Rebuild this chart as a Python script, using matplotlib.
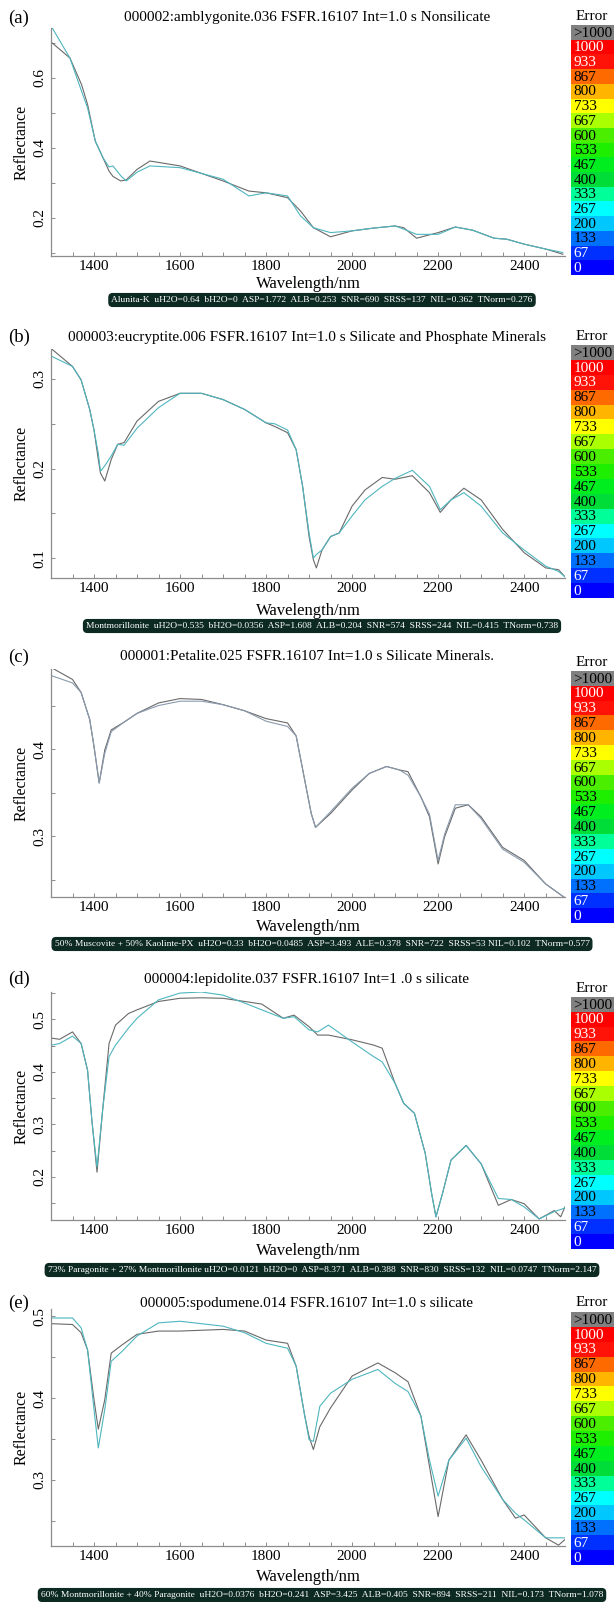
import numpy as np
import matplotlib
matplotlib.use("Agg")
import matplotlib.pyplot as plt

plt.rcParams['font.family'] = ['Liberation Serif', 'DejaVu Serif']

# === 1. data ===
labels = ["(a)", "(b)", "(c)", "(d)", "(e)"]
titles = [
    "000002:amblygonite.036 FSFR.16107 Int=1.0 s Nonsilicate",
    "000003:eucryptite.006 FSFR.16107 Int=1.0 s Silicate and Phosphate Minerals",
    "000001:Petalite.025 FSFR.16107 Int=1.0 s Silicate Minerals.",
    "000004:lepidolite.037 FSFR.16107 Int=1 .0 s silicate",
    "000005:spodumene.014 FSFR.16107 Int=1.0 s silicate",
]
infos = [
    "Alunita-K  uH2O=0.64  bH2O=0  ASP=1.772  ALB=0.253  SNR=690  SRSS=137  NIL=0.362  TNorm=0.276",
    "Montmorillonite  uH2O=0.535  bH2O=0.0356  ASP=1.608  ALB=0.204  SNR=574  SRSS=244  NIL=0.415  TNorm=0.738",
    "50% Muscovite + 50% Kaolinte-PX  uH2O=0.33  bH2O=0.0485  ASP=3.493  ALE=0.378  SNR=722  SRSS=53 NIL=0.102  TNorm=0.577",
    "73% Paragonite + 27% Montmorillonite uH2O=0.0121  bH2O=0  ASP=8.371  ALB=0.388  SNR=830  SRSS=132  NIL=0.0747  TNorm=2.147",
    "60% Montmorillonite + 40% Paragonite  uH2O=0.0376  bH2O=0.241  ASP=3.425  ALB=0.405  SNR=894  SRSS=211  NIL=0.173  TNorm=1.078",
]

wl_a = [1303, 1344, 1371, 1385, 1403, 1421, 1435, 1444, 1462, 1475, 1500, 1530, 1600, 1700, 1760, 1800, 1850,
        1880, 1910, 1950, 2000, 2050, 2100, 2120, 2150, 2200, 2240, 2280, 2330, 2360, 2400, 2450, 2490]
gray_a = [0.700, 0.657, 0.581, 0.524, 0.419, 0.371, 0.333, 0.318, 0.305, 0.308, 0.338, 0.362, 0.348, 0.305, 0.276,
          0.271, 0.257, 0.219, 0.171, 0.145, 0.162, 0.170, 0.176, 0.171, 0.141, 0.157, 0.173, 0.164, 0.141, 0.138,
          0.124, 0.110, 0.095]
cyan_a = [0.743, 0.657, 0.562, 0.514, 0.419, 0.371, 0.345, 0.348, 0.320, 0.305, 0.330, 0.348, 0.343, 0.310, 0.262,
          0.271, 0.262, 0.205, 0.171, 0.157, 0.162, 0.170, 0.176, 0.167, 0.152, 0.152, 0.173, 0.164, 0.141, 0.138,
          0.124, 0.110, 0.100]

wl_b = [1303, 1350, 1370, 1390, 1400, 1410, 1415, 1425, 1440, 1455, 1470, 1500, 1550, 1600, 1650, 1700, 1750, 1800,
        1820, 1850, 1870, 1885, 1900, 1910, 1917, 1930, 1950, 1970, 2000, 2030, 2070, 2100, 2140, 2180, 2205, 2230,
        2260, 2300, 2350, 2400, 2450, 2480, 2495]
gray_b = [0.333, 0.314, 0.299, 0.266, 0.243, 0.210, 0.195, 0.186, 0.210, 0.227, 0.229, 0.253, 0.275, 0.284, 0.284,
          0.277, 0.266, 0.251, 0.247, 0.240, 0.221, 0.180, 0.124, 0.098, 0.089, 0.109, 0.124, 0.128, 0.158, 0.176,
          0.190, 0.188, 0.192, 0.173, 0.151, 0.165, 0.178, 0.165, 0.132, 0.106, 0.089, 0.087, 0.079]
cyan_b = [0.325, 0.314, 0.299, 0.266, 0.243, 0.217, 0.197, 0.203, 0.214, 0.227, 0.226, 0.245, 0.268, 0.284, 0.284,
          0.277, 0.266, 0.251, 0.250, 0.243, 0.221, 0.180, 0.128, 0.100, 0.104, 0.109, 0.124, 0.128, 0.147, 0.165,
          0.180, 0.189, 0.198, 0.180, 0.154, 0.165, 0.173, 0.158, 0.128, 0.109, 0.091, 0.085, 0.079]

wl_c = [1303, 1350, 1370, 1390, 1400, 1412, 1425, 1440, 1470, 1500, 1550, 1600, 1650, 1700, 1750, 1800, 1850, 1870,
        1890, 1905, 1915, 1950, 2000, 2040, 2080, 2110, 2130, 2160, 2180, 2200, 2215, 2240, 2270, 2300, 2350, 2400,
        2450, 2495]
gray_c = [0.493, 0.480, 0.465, 0.434, 0.403, 0.361, 0.399, 0.422, 0.431, 0.441, 0.453, 0.458, 0.457, 0.451, 0.444,
          0.435, 0.430, 0.415, 0.364, 0.326, 0.310, 0.326, 0.353, 0.372, 0.380, 0.376, 0.374, 0.345, 0.322, 0.268,
          0.299, 0.332, 0.336, 0.322, 0.287, 0.272, 0.245, 0.229]
cyan_c = [0.484, 0.476, 0.465, 0.434, 0.403, 0.361, 0.395, 0.420, 0.431, 0.441, 0.450, 0.455, 0.455, 0.451, 0.444,
          0.432, 0.426, 0.415, 0.364, 0.326, 0.310, 0.328, 0.355, 0.372, 0.380, 0.376, 0.370, 0.345, 0.325, 0.272,
          0.302, 0.336, 0.336, 0.320, 0.285, 0.270, 0.245, 0.229]

wl_d = [1303, 1320, 1350, 1370, 1385, 1395, 1407, 1420, 1435, 1450, 1480, 1500, 1550, 1600, 1650, 1700, 1750, 1790,
        1840, 1865, 1900, 1920, 1945, 2000, 2050, 2070, 2100, 2120, 2145, 2170, 2185, 2195, 2210, 2230, 2265, 2300,
        2340, 2370, 2400, 2435, 2470, 2485, 2495]
gray_d = [0.464, 0.462, 0.476, 0.454, 0.403, 0.308, 0.209, 0.327, 0.454, 0.489, 0.511, 0.518, 0.534, 0.540, 0.541,
          0.540, 0.534, 0.529, 0.502, 0.508, 0.486, 0.470, 0.470, 0.461, 0.451, 0.445, 0.378, 0.340, 0.321, 0.245,
          0.168, 0.124, 0.168, 0.232, 0.260, 0.225, 0.146, 0.157, 0.149, 0.120, 0.136, 0.124, 0.143]
cyan_d = [0.451, 0.454, 0.468, 0.454, 0.403, 0.308, 0.219, 0.327, 0.429, 0.451, 0.483, 0.502, 0.537, 0.550, 0.552,
          0.546, 0.531, 0.518, 0.502, 0.505, 0.480, 0.476, 0.489, 0.457, 0.429, 0.419, 0.378, 0.340, 0.321, 0.245,
          0.168, 0.124, 0.168, 0.232, 0.260, 0.225, 0.159, 0.157, 0.143, 0.120, 0.134, 0.138, 0.141]

wl_e = [1303, 1350, 1370, 1385, 1400, 1410, 1425, 1440, 1465, 1500, 1550, 1600, 1700, 1750, 1800, 1850, 1870, 1890,
        1900, 1910, 1925, 1950, 2000, 2060, 2100, 2130, 2160, 2180, 2200, 2225, 2265, 2300, 2350, 2380, 2400, 2450,
        2480, 2495]
gray_e = [0.491, 0.490, 0.480, 0.459, 0.398, 0.362, 0.398, 0.455, 0.465, 0.478, 0.482, 0.482, 0.484, 0.482, 0.471,
          0.467, 0.439, 0.378, 0.353, 0.337, 0.365, 0.388, 0.427, 0.443, 0.431, 0.420, 0.378, 0.316, 0.255, 0.324,
          0.355, 0.324, 0.276, 0.253, 0.257, 0.229, 0.220, 0.227]
cyan_e = [0.498, 0.498, 0.486, 0.459, 0.386, 0.339, 0.386, 0.445, 0.457, 0.476, 0.492, 0.494, 0.488, 0.480, 0.467,
          0.461, 0.439, 0.378, 0.349, 0.347, 0.390, 0.406, 0.423, 0.435, 0.418, 0.408, 0.378, 0.324, 0.280, 0.324,
          0.351, 0.316, 0.276, 0.259, 0.251, 0.229, 0.229, 0.229]

wls = [wl_a, wl_b, wl_c, wl_d, wl_e]
grays = [gray_a, gray_b, gray_c, gray_d, gray_e]
cyans = [cyan_a, cyan_b, cyan_c, cyan_d, cyan_e]
ylims = [(0.09, 0.743), (0.0777, 0.3335), (0.23, 0.492), (0.118, 0.552), (0.219, 0.509)]
ymajor = [0.2, 0.1, 0.1, 0.1, 0.1]
yminor = [0.1, 0.05, 0.05, 0.05, 0.05]

err_labels = [">1000", "1000", "933", "867", "800", "733", "667", "600", "533", "467", "400",
              "333", "267", "200", "133", "67", "0"]
err_colors = ["#808080", "#ff0000", "#ff1208", "#ff6a00", "#ffb400", "#ffff00", "#aaff00", "#4cee00",
              "#1eee00", "#00ee20", "#00dd38", "#00ff99", "#00ffff", "#00c8ff", "#0070ff", "#0030ff", "#0000ff"]
err_text = ["black", "white", "white", "black", "black", "black", "black", "black", "black", "black",
            "black", "black", "black", "black", "black", "white", "white"]

# === 2. layout in pixels (top-origin) ===
W, H = 614, 1602
ax_top = [28, 349, 669, 992, 1309]
ax_bot = [256, 578, 897, 1220, 1546]
title_y = [18, 337, 657, 979, 1303]
error_y = [17, 336, 663, 989, 1303]
xlab_y = [284, 611, 927, 1251, 1577]
info_y = [300, 626, 944, 1270, 1595]
cb_top = [25, 345, 671, 997, 1312]
cb_bot = [275, 598, 923, 1249, 1565]
line2_colors = ["#4fb6bf", "#4fb6bf", "#8a9aae", "#4fb6bf", "#4fb6bf"]

fig = plt.figure(figsize=(W / 100, H / 100), dpi=100)


def fx(x):
    return x / W


def fy(y):
    return 1 - y / H


for i in range(5):
    ax = fig.add_axes([fx(51), fy(ax_bot[i]), fx(565 - 51), (ax_bot[i] - ax_top[i]) / H])
    ax.plot(wls[i], grays[i], color="#6a6a6a", lw=0.8)
    ax.plot(wls[i], cyans[i], color=line2_colors[i], lw=0.8)
    ax.set_xlim(1300, 2495)
    ax.set_ylim(*ylims[i])
    for s in ["top", "right"]:
        ax.spines[s].set_visible(False)
    for s in ["left", "bottom"]:
        ax.spines[s].set_color("#8c8c8c")
        ax.spines[s].set_linewidth(0.9)
    ax.set_xticks(np.arange(1400, 2401, 200))
    ax.set_xticks(np.arange(1350, 2500, 50), minor=True)
    ax.yaxis.set_major_locator(plt.MultipleLocator(ymajor[i]))
    ax.yaxis.set_minor_locator(plt.MultipleLocator(yminor[i]))
    ax.tick_params(which="both", direction="in", length=3, width=0.7, color="#8c8c8c",
                   labelsize=11, pad=3)
    ax.tick_params(axis="y", labelrotation=90)
    for lab in ax.get_yticklabels():
        lab.set_va("center")
    ax.set_ylabel("Reflectance", fontsize=11.5, labelpad=3)

    fig.text(fx(8), fy(title_y[i]), labels[i], fontsize=13.5, va="center", ha="left")
    fig.text(fx(307), fy(title_y[i]), titles[i], fontsize=11, va="center", ha="center")
    fig.text(fx(308), fy(xlab_y[i]), "Wavelength/nm", fontsize=12, va="center", ha="center")
    fig.text(fx(322), fy(info_y[i]), infos[i], fontsize=6.8, va="center", ha="center", color="white",
             bbox=dict(boxstyle="round,pad=0.25,rounding_size=0.4", fc="#0d2a22", ec="#0d2a22"))

    # error colour legend
    cax = fig.add_axes([fx(571), fy(cb_bot[i]), fx(614 - 571), (cb_bot[i] - cb_top[i]) / H])
    n = len(err_labels)
    cax.barh(np.arange(n), 1, height=1.0, left=0, color=err_colors, edgecolor="none")
    cax.set_xlim(0, 1)
    cax.set_ylim(n - 0.5, -0.5)
    cax.axis("off")
    for k in range(n):
        cax.text(0.06, k + 0.05, err_labels[k], color=err_text[k], fontsize=11, va="center", ha="left")
    fig.text(fx(592), fy(error_y[i]), "Error", fontsize=11, va="center", ha="center")

fig.savefig("out.png", dpi=100)
